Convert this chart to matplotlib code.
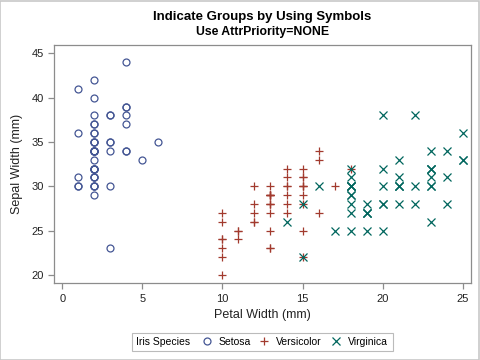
import matplotlib.pyplot as plt
from matplotlib.patches import Rectangle
from matplotlib.lines import Line2D

plt.rcParams['font.family'] = ['Liberation Sans', 'DejaVu Sans']

# Iris data, petal width and sepal width in mm
setosa_pw = [2, 2, 2, 2, 2, 4, 3, 2, 2, 1, 2, 2, 1, 1, 2, 4, 4, 3, 3, 3, 2, 4, 2, 5, 2,
             2, 4, 2, 2, 2, 2, 4, 1, 2, 2, 2, 2, 1, 2, 2, 3, 3, 2, 6, 4, 3, 2, 2, 2, 2]
setosa_sw = [35, 30, 32, 31, 36, 39, 34, 34, 29, 31, 37, 34, 30, 30, 40, 44, 39, 35, 38, 38,
             34, 37, 36, 33, 34, 30, 34, 35, 34, 32, 31, 34, 41, 42, 31, 32, 35, 36, 30, 34,
             35, 23, 32, 35, 38, 30, 38, 32, 37, 33]
versi_pw = [14, 15, 15, 13, 15, 13, 16, 10, 13, 14, 10, 15, 10, 14, 13, 14, 15, 10, 15, 11,
            18, 13, 15, 12, 13, 14, 14, 17, 15, 10, 11, 10, 12, 16, 15, 16, 15, 13, 13, 13,
            12, 14, 12, 10, 13, 12, 13, 13, 11, 13]
versi_sw = [32, 32, 31, 23, 28, 28, 33, 24, 29, 27, 20, 30, 22, 29, 29, 31, 30, 27, 22, 25,
            32, 28, 25, 28, 29, 30, 28, 30, 29, 26, 24, 24, 27, 27, 30, 34, 31, 23, 30, 25,
            26, 30, 26, 23, 27, 30, 29, 29, 25, 28]
virg_pw = [25, 19, 21, 18, 22, 21, 17, 18, 18, 25, 20, 19, 21, 20, 24, 23, 18, 22, 23, 15,
           23, 20, 20, 18, 21, 18, 18, 18, 21, 16, 19, 20, 22, 15, 14, 23, 24, 18, 18, 21,
           24, 23, 19, 23, 25, 23, 19, 20, 23, 18]
virg_sw = [33, 27, 30, 29, 30, 30, 25, 29, 25, 36, 32, 27, 30, 25, 28, 32, 30, 38, 26, 22,
           32, 28, 28, 27, 33, 32, 28, 30, 28, 30, 28, 38, 28, 28, 26, 30, 34, 31, 30, 31,
           31, 31, 27, 32, 33, 30, 25, 30, 34, 30]

species = ['Setosa', 'Versicolor', 'Virginica']
colors = ['#445694', '#A23A2E', '#01665E']
markers = ['o', '+', 'x']

fig = plt.figure(figsize=(4.8, 3.6), dpi=100)
ax = fig.add_axes([0.1131, 0.2131, 0.8675, 0.6619])

groups = [(setosa_pw, setosa_sw), (versi_pw, versi_sw), (virg_pw, virg_sw)]
handles = []
for (xs, ys), name, c, m in zip(groups, species, colors, markers):
    size = 5 if m == 'o' else 5.5
    ax.plot(xs, ys, linestyle='none', marker=m, markersize=size,
            markerfacecolor='none', markeredgecolor=c, markeredgewidth=0.9)
    handles.append(Line2D([], [], linestyle='none', marker=m, markersize=size,
                          markerfacecolor='none', markeredgecolor=c,
                          markeredgewidth=0.9, label=name))

ax.set_xlim(-0.5, 25.5)
ax.set_ylim(19.06, 45.94)
ax.set_xticks([0, 5, 10, 15, 20, 25])
ax.set_yticks([20, 25, 30, 35, 40, 45])
for s in ax.spines.values():
    s.set_color('#8C8C8C')
    s.set_linewidth(0.9)
ax.tick_params(colors='#8C8C8C', labelcolor='#222222', labelsize=8, length=4, width=0.9)
ax.set_xlabel('Petal Width (mm)', fontsize=9, color='#222222', labelpad=4)
ax.set_ylabel('Sepal Width (mm)', fontsize=9, color='#222222', labelpad=6)

fig.text(0.546, 1 - 17 / 360, 'Indicate Groups by Using Symbols', ha='center', va='center',
         fontsize=9.5, fontweight='bold')
fig.text(0.546, 1 - 32 / 360, 'Use AttrPriority=NONE', ha='center', va='center',
         fontsize=8.8, fontweight='bold')

# legend frame with inline title
fig.add_artist(Rectangle((132 / 480, 1 - 351 / 360), (393 - 132) / 480, 18 / 360,
                         transform=fig.transFigure, fill=False,
                         edgecolor='#BBBBBB', linewidth=0.8))
fig.text(136 / 480, 1 - 342 / 360, 'Iris Species', ha='left', va='center', fontsize=7.5)
fig.legend(handles=handles, loc='center left', bbox_to_anchor=(202 / 480, 1 - 342 / 360),
           ncol=3, frameon=False, fontsize=7.5, handlelength=0.9, handletextpad=0.7,
           columnspacing=0.85, borderpad=0, borderaxespad=0)

# outer border
fig.add_artist(Rectangle((0.001, 0.001), 0.997, 0.997, transform=fig.transFigure,
                         fill=False, edgecolor='#C8C8C8', linewidth=1.2))

fig.savefig('out.png', dpi=100)
